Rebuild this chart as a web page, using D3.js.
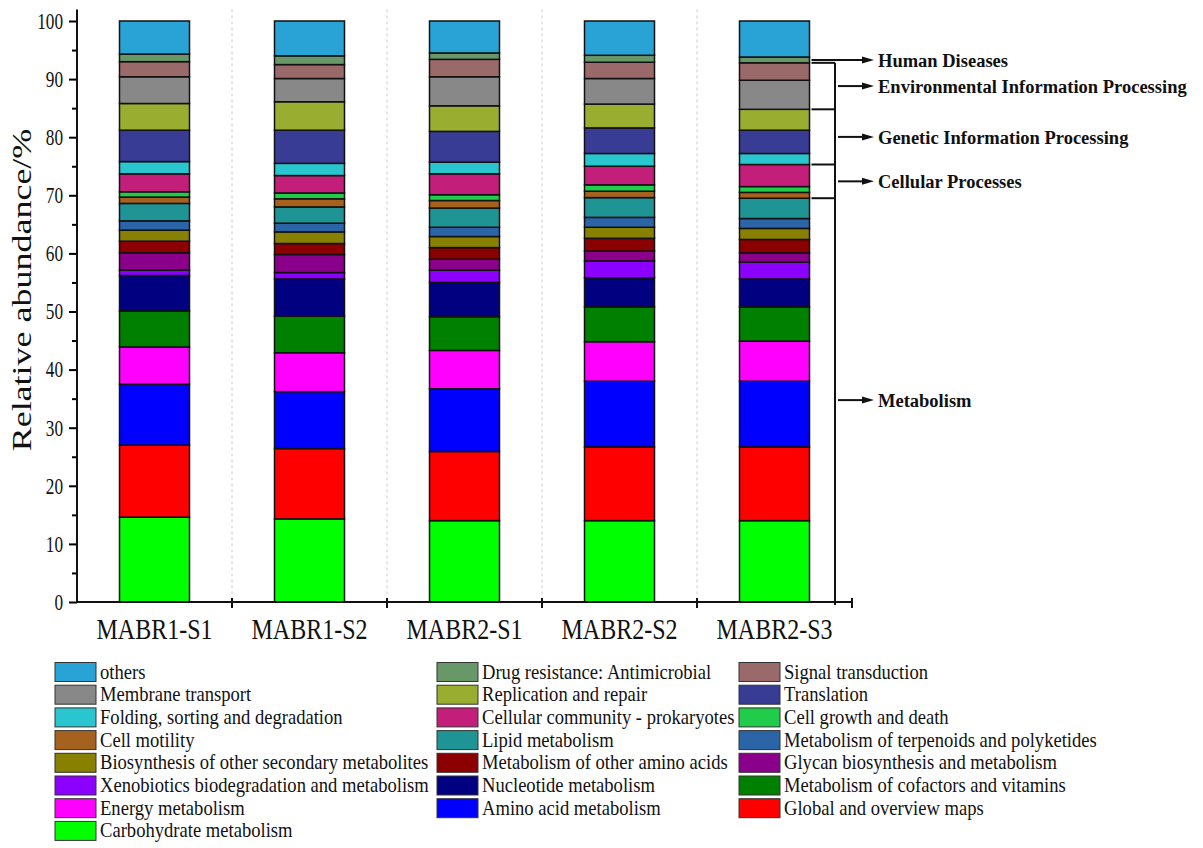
<!DOCTYPE html>
<html>
<head>
<meta charset="utf-8">
<script src="https://cdn.jsdelivr.net/npm/d3@7"></script>
<style>
body { margin: 0; background: #fff; }
text { font-family: "Liberation Serif", "Times New Roman", serif; }
</style>
</head>
<body>
<script>
// samples on the x axis
const samples = ["MABR1-S1", "MABR1-S2", "MABR2-S1", "MABR2-S2", "MABR2-S3"];

// KEGG level-2 pathways, stacked bottom to top
const pathways = [
"Carbohydrate metabolism", "Global and overview maps", "Amino acid metabolism",
"Energy metabolism", "Metabolism of cofactors and vitamins", "Nucleotide metabolism",
"Xenobiotics biodegradation and metabolism", "Glycan biosynthesis and metabolism",
"Metabolism of other amino acids", "Biosynthesis of other secondary metabolites",
"Metabolism of terpenoids and polyketides", "Lipid metabolism", "Cell motility",
"Cell growth and death", "Cellular community - prokaryotes", "Folding, sorting and degradation",
"Translation", "Replication and repair", "Membrane transport", "Signal transduction",
"Drug resistance: Antimicrobial", "others"
];

const colors = [
"#00ff00", "#ff0000", "#0000ff", "#ff00ff", "#008000", "#000080",
"#8b00ff", "#8b008b", "#8b0000", "#888000", "#2c64a8", "#1f9495",
"#a5621f", "#21cc4a", "#c21e7a", "#29c6d0", "#393c94", "#99ad31",
"#888888", "#9a6a6a", "#689868", "#29a3d6"
];

// relative abundance (%) per sample, same order as pathways
const mabr1S1 = [14.6, 12.4, 10.5, 6.4, 6.2, 6.1, 0.9, 3.0, 2.0, 1.9, 1.6, 3.0, 1.1, 0.9, 3.1, 2.1, 5.4, 4.6, 4.6, 2.6, 1.3, 5.7];
const mabr1S2 = [14.3, 12.1, 9.8, 6.7, 6.3, 6.4, 1.1, 3.1, 1.9, 2.0, 1.5, 2.8, 1.4, 1.0, 3.0, 2.1, 5.7, 4.9, 4.0, 2.4, 1.5, 6.0];
const mabr2S1 = [14.0, 11.9, 10.8, 6.6, 5.8, 5.9, 2.1, 1.9, 2.0, 1.9, 1.6, 3.3, 1.3, 1.0, 3.6, 2.0, 5.3, 4.4, 5.0, 3.0, 1.1, 5.5];
const mabr2S2 = [14.0, 12.7, 11.3, 6.8, 6.0, 5.0, 2.9, 1.7, 2.2, 1.9, 1.7, 3.4, 1.1, 1.1, 3.2, 2.2, 4.4, 4.1, 4.4, 2.8, 1.2, 5.9];
const mabr2S3 = [14.0, 12.7, 11.3, 6.9, 5.9, 4.8, 2.9, 1.6, 2.3, 1.9, 1.7, 3.5, 1.0, 1.0, 3.8, 1.9, 4.0, 3.6, 5.0, 3.0, 1.0, 6.2];
const sampleValues = [mabr1S1, mabr1S2, mabr2S1, mabr2S2, mabr2S3];

// level-1 groups shown on the right (index range into pathways)
const groupNames = ["Human Diseases", "Environmental Information Processing", "Genetic Information Processing", "Cellular Processes", "Metabolism"];
const groupFirst = [20, 18, 15, 12, 0];
const groupLast = [20, 19, 17, 14, 11];

const width = 1203, height = 848;

const svg = d3.select("body").append("svg")
.attr("width", width)
.attr("height", height);

// build stacked table
const table = samples.map(function(s, i){
const row = {sample: s};
pathways.forEach(function(p, j){ row[p] = sampleValues[i][j]; });
return row;
});
const series = d3.stack().keys(pathways)(table);

const x = d3.scaleBand().domain(samples).range([77, 852]);
const y = d3.scaleLinear().domain([0, 100]).range([602, 21]);
const barW = 70;

// dashed separators
svg.append("g").selectAll("line")
.data(samples.slice(0, -1))
.enter().append("line")
.attr("x1", d => x(d) + x.bandwidth())
.attr("x2", d => x(d) + x.bandwidth())
.attr("y1", y(102))
.attr("y2", y(0))
.attr("stroke", "#cccccc")
.attr("stroke-dasharray", "3,3");

// bars
svg.append("g").selectAll("g")
.data(series)
.enter().append("g")
.attr("fill", (d, i) => colors[i])
.selectAll("rect")
.data(d => d)
.enter().append("rect")
.attr("x", d => x(d.data.sample) + (x.bandwidth() - barW) / 2)
.attr("y", d => y(d[1]))
.attr("width", barW)
.attr("height", d => y(d[0]) - y(d[1]))
.attr("stroke", "#111")
.attr("stroke-width", 1.5);

// y axis
const yAxis = d3.axisLeft(y)
.tickValues(d3.range(0, 101, 5))
.tickSize(8)
.tickPadding(6)
.tickFormat(d => d % 10 === 0 ? d : "");

const gy = svg.append("g")
.attr("transform", "translate(77,0)")
.call(yAxis);
gy.select(".domain").remove();
gy.selectAll(".tick line")
.attr("stroke-width", 2)
.attr("x2", d => d % 10 === 0 ? -8 : -5);
gy.selectAll(".tick text")
.attr("font-size", 23)
.attr("font-family", "Liberation Serif")
.attr("fill", "#111")
.attr("transform", function(){
const tx = +d3.select(this).attr("x");
d3.select(this).attr("x", 0);
return "translate(" + tx + ",0) scale(0.75,1)";
});
svg.append("line")
.attr("x1", 77).attr("x2", 77)
.attr("y1", y(102)).attr("y2", y(0) + 1)
.attr("stroke", "#111").attr("stroke-width", 2);

// x axis
svg.append("line")
.attr("x1", 76).attr("x2", 853)
.attr("y1", y(0)).attr("y2", y(0))
.attr("stroke", "#111").attr("stroke-width", 2);
svg.append("g").selectAll("line")
.data(samples)
.enter().append("line")
.attr("x1", d => x(d) + x.bandwidth())
.attr("x2", d => x(d) + x.bandwidth())
.attr("y1", y(0) - 4)
.attr("y2", y(0) + 6)
.attr("stroke", "#111").attr("stroke-width", 2);

svg.append("g").selectAll("text")
.data(samples)
.enter().append("text")
.attr("transform", d => "translate(" + (x(d) + x.bandwidth() / 2) + ",639) scale(0.8,1)")
.attr("text-anchor", "middle")
.attr("font-size", 30)
.attr("fill", "#111")
.text(d => d);

// y label
svg.append("text")
.attr("transform", "translate(31,290) scale(0.78,1) rotate(-90)")
.attr("text-anchor", "middle")
.attr("font-size", 36)
.attr("fill", "#111")
.text("Relative abundance/%");

// group brackets on the right (from the last sample)
const last = sampleValues[sampleValues.length - 1];
const cum = d3.cumsum(last);
const bottomOf = i => i === 0 ? 0 : cum[i - 1];
const bx = 835, bx0 = x(samples[4]) + (x.bandwidth() + barW) / 2 + 2;

const brackets = svg.append("g").attr("stroke", "#111").attr("stroke-width", 2);
brackets.append("line")
.attr("x1", bx).attr("x2", bx)
.attr("y1", y(cum[groupLast[1]])).attr("y2", y(0) + 3);
const cuts = [groupLast[1], groupLast[2], groupLast[3], groupLast[4]];
brackets.selectAll("line.cut")
.data(cuts)
.enter().append("line")
.attr("class", "cut")
.attr("x1", bx0).attr("x2", bx)
.attr("y1", d => y(cum[d])).attr("y2", d => y(cum[d]));

const arrowY = groupNames.map(function(g, i){
return y((bottomOf(groupFirst[i]) + cum[groupLast[i]]) / 2);
});
const arrows = svg.append("g");
arrows.selectAll("line")
.data(groupNames)
.enter().append("line")
.attr("x1", (d, i) => i === 0 ? bx0 : bx + 3)
.attr("x2", 866)
.attr("y1", (d, i) => arrowY[i])
.attr("y2", (d, i) => arrowY[i])
.attr("stroke", "#111").attr("stroke-width", 2);
arrows.selectAll("path")
.data(groupNames)
.enter().append("path")
.attr("d", (d, i) => "M862," + (arrowY[i] - 3.5) + "L874," + arrowY[i] + "L862," + (arrowY[i] + 3.5) + "Z")
.attr("fill", "#111");
arrows.selectAll("text")
.data(groupNames)
.enter().append("text")
.attr("x", 878)
.attr("y", (d, i) => arrowY[i] + 7)
.attr("font-size", 18.5)
.attr("font-weight", "bold")
.attr("fill", "#111")
.text(d => d);

// legend, three columns, reversed stack order
const legendOrder = pathways.map((p, i) => i).reverse();
const colX = [55, 437, 739];
const legend = svg.append("g").selectAll("g")
.data(legendOrder)
.enter().append("g")
.attr("transform", (d, k) => "translate(" + colX[k % 3] + "," + (672 + Math.floor(k / 3) * 22.7) + ")");
legend.append("rect")
.attr("x", 0).attr("y", -9.5)
.attr("width", 41).attr("height", 19)
.attr("fill", d => colors[d])
.attr("stroke", "#333").attr("stroke-width", 1);
legend.append("text")
.attr("transform", "translate(45,6.5) scale(0.93,1)")
.attr("font-size", 20)
.attr("fill", "#111")
.text(d => pathways[d]);
</script>
</body>
</html>
